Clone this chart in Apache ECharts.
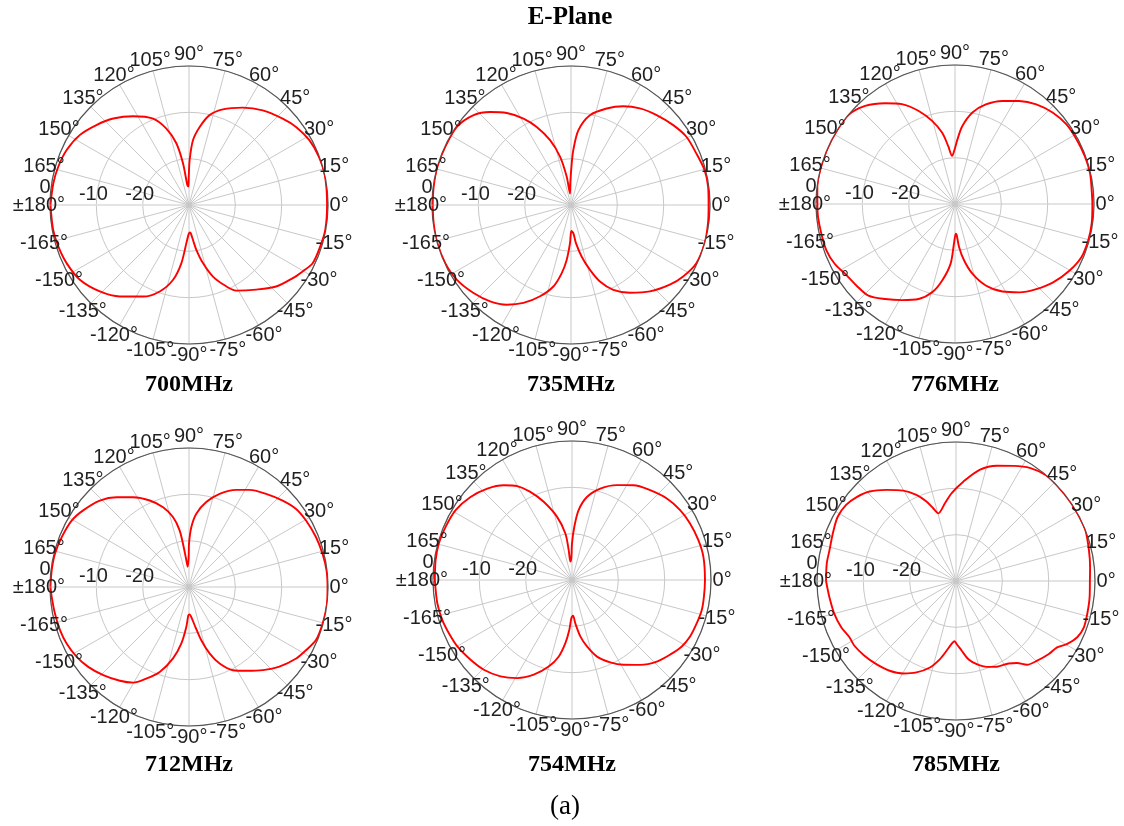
<!DOCTYPE html>
<html>
<head>
<meta charset="utf-8">
<title>E-Plane radiation patterns</title>
<script src="https://cdn.jsdelivr.net/npm/echarts@6/dist/echarts.min.js"></script>
<style>
  html, body { margin: 0; padding: 0; background: #ffffff; }
  #chart { width: 1124px; height: 826px; }
</style>
</head>
<body>
<div id="chart"></div>
<script>
// Normalised E-plane gain (dB) versus angle (deg), one list of [angle, gain] per frequency.
const pattern700 = [[-180,-0.1],[-169.6,-0.2],[-162.4,-0.4],[-154.6,-0.75],[-145.6,-1.45],[-135.9,-3.2],[-127.1,-5.25],[-116.6,-7.9],[-108.7,-10.3],[-102,-13.5],[-97.5,-17.3],[-94,-21.7],[-91,-23.6],[-88.6,-24.1],[-86.6,-23.9],[-83.5,-22.4],[-80.7,-20.2],[-76.5,-17.1],[-71.5,-13.7],[-65.4,-10.7],[-61.1,-8.9],[-51.6,-6.7],[-43.1,-4.25],[-35.2,-2.6],[-30.3,-1.6],[-25.2,-0.5],[-17.5,-0.3],[-10.4,-0.1],[0,-0.2],[11.7,0],[20.3,-0.1],[28.3,-0.5],[36.1,-1.4],[42.7,-2.5],[52.1,-4.1],[61.1,-6.0],[70.5,-8.1],[77.1,-10.1],[82.2,-13.0],[86.5,-16.0],[89.2,-20.3],[90.5,-24.0],[92,-26.0],[94.8,-25.7],[98.2,-20.9],[101.6,-16.4],[106.5,-12.8],[112.6,-9.8],[122.2,-7.35],[131.2,-5.2],[139.2,-3.6],[147.4,-2.0],[155.8,-1.05],[163.7,-0.6],[170.9,-0.35],[180,-0.1]];
const pattern735 = [[-180,-0.15],[-172.4,-0.1],[-164,0],[-155.2,-0.1],[-146.7,-0.55],[-137.9,-1.65],[-130,-2.85],[-122.8,-4.4],[-115.9,-6.5],[-108.7,-9.2],[-102.2,-12.0],[-97.8,-15.1],[-94.5,-18.1],[-91.5,-21.75],[-89.3,-24.4],[-85.3,-23.9],[-82.6,-21.7],[-78.3,-18.6],[-73.7,-15.4],[-69.3,-12.35],[-63.5,-9.55],[-56.1,-7.2],[-47.6,-4.75],[-38.9,-2.6],[-32.5,-1.3],[-24.9,-0.17],[-16,0],[-7.6,-0.17],[0,-0.3],[7.6,-0.15],[14.6,-0.2],[22.4,-0.75],[30.6,-1.07],[38,-2.0],[46.4,-3.2],[54.5,-4.4],[62.1,-5.9],[69.7,-7.8],[78.1,-10.2],[84.4,-13.8],[87.6,-18.15],[89,-21.0],[91.6,-25.0],[95,-27.5],[98.7,-23.8],[102.8,-19.3],[107.9,-15.3],[113.7,-11.6],[118.8,-8.7],[124.9,-5.8],[131,-3.4],[137.3,-1.4],[145.6,-0.15],[155,-0.1],[164,0],[172.4,-0.1],[180,-0.15]];
const pattern776 = [[-180,-0.3],[-174.7,-0.3],[-167.5,-0.45],[-160.2,-0.5],[-153.6,-1.0],[-146.6,-2.0],[-140.3,-2.4],[-133.4,-2.8],[-126.3,-4.55],[-118.9,-6.3],[-110.9,-8.05],[-104.5,-10.3],[-99.5,-13.25],[-94.2,-17.1],[-91.5,-21.45],[-88.5,-23.6],[-86.9,-23.3],[-84.6,-20.7],[-80.9,-17.7],[-76,-14.5],[-69.3,-11.2],[-61.5,-8.5],[-53.9,-6.4],[-46.3,-4.6],[-38.6,-2.9],[-30.1,-1.4],[-22.7,-0.4],[-15.2,-0.2],[-8.1,-0.2],[0,-0.35],[5.9,-0.35],[12.9,-0.1],[20.1,-0.15],[27.9,-0.3],[35.5,-0.45],[43,-1.1],[50.8,-2.25],[58,-3.8],[65.2,-5.5],[72.8,-7.5],[79.2,-9.9],[84.6,-13.1],[87.9,-16.1],[90.5,-18.3],[93.5,-19.6],[96.6,-17.5],[100.2,-14.4],[105.4,-11.4],[111.3,-8.45],[118,-5.6],[124.7,-3.55],[132.5,-1.3],[140,-0.05],[148,0],[157,0],[165.8,0],[172.8,-0.05],[180,-0.3]];
const pattern712 = [[-180,-0.1],[-175.8,-0.3],[-168.8,-0.5],[-161.5,-0.65],[-155.2,-0.9],[-148.1,-1.45],[-141.6,-2.25],[-134.2,-3.45],[-126.4,-4.85],[-120.3,-6.1],[-115,-8.2],[-109,-10.6],[-102.6,-14.2],[-97.7,-17.7],[-93.8,-21.4],[-91.3,-23.9],[-88.6,-24.1],[-85.6,-23.5],[-81,-21.3],[-77,-18.2],[-72.8,-15.0],[-68.2,-12.2],[-62.2,-9.7],[-55.7,-8.1],[-48.4,-6.0],[-41.4,-4.0],[-33.7,-2.2],[-28.4,-1.3],[-22.7,-0.3],[-15.3,-0.1],[-6.9,0],[0,-0.1],[6.9,-0.1],[14,-0.3],[21.4,-0.55],[29.6,-0.95],[36.1,-1.4],[42.7,-2.5],[50.4,-3.9],[58.1,-5.3],[64.1,-6.7],[71.8,-8.85],[78.5,-11.3],[84.3,-14.1],[87.8,-17.1],[90,-20.7],[90.6,-23.5],[93.5,-25.6],[95.7,-24.2],[97.6,-21.3],[99.4,-17.6],[102.9,-14.5],[108,-11.9],[114.4,-9.5],[121.9,-7.2],[128.9,-5.1],[135.9,-3.2],[144.1,-1.8],[150.5,-0.9],[158.6,-0.5],[166.1,-0.2],[173.1,-0.15],[180,-0.1]];
const pattern754 = [[-180,-0.4],[-170.2,-0.5],[-162.9,-0.7],[-156.6,-1.05],[-149.9,-1.4],[-141.8,-2.15],[-134.5,-2.85],[-126.6,-4.1],[-119.2,-5.75],[-112,-7.95],[-105.1,-10.65],[-99.9,-13.2],[-96,-16.3],[-93.1,-19.2],[-91,-21.75],[-88.4,-22.3],[-85.6,-20.6],[-81.6,-17.7],[-77.3,-15.3],[-71.9,-12.6],[-65.1,-10.4],[-58.7,-8.6],[-51.2,-6.5],[-43.9,-4.6],[-37.3,-3.4],[-31.2,-2.3],[-25.6,-1.75],[-19.1,-1.5],[-13,-1.25],[-7.2,-1.3],[0,-1.3],[10,-1.2],[17.5,-1.4],[25.6,-1.75],[32.9,-2.2],[40.7,-3.0],[49,-4.3],[57,-5.6],[64.7,-7.35],[72.8,-9.35],[79.8,-11.8],[84.6,-14.85],[87.5,-18.5],[90,-22.1],[91.8,-25.3],[95.2,-26.0],[96.3,-23.5],[98.1,-19.85],[103.3,-16.0],[109.9,-12.05],[115.3,-8.95],[120.3,-6.55],[125.7,-4.8],[132.8,-3.1],[140.7,-1.7],[149,-0.7],[157.2,-0.4],[164.6,-0.2],[171.7,-0.25],[180,-0.4]];
const pattern785 = [[-180,-1.95],[-172.8,-2.45],[-164.9,-2.8],[-158.1,-3.3],[-152.2,-4.0],[-147.5,-4.0],[-140.8,-4.5],[-133.8,-5.15],[-126.5,-5.9],[-119.8,-7.0],[-113.4,-8.5],[-106.8,-10.5],[-101.6,-12.8],[-97.7,-14.8],[-94,-16.4],[-91.6,-17.0],[-89.4,-16.4],[-85.3,-14.9],[-81,-12.9],[-76,-11.5],[-70.2,-10.3],[-64.5,-9.5],[-57.5,-8.9],[-53.4,-7.95],[-49.7,-6.3],[-44.5,-5.45],[-38.2,-4.5],[-33.3,-3.9],[-29.5,-2.4],[-24.9,-1.15],[-19.9,-0.65],[-14,-0.8],[-6.9,-0.95],[0,-1.1],[6,-0.9],[13,-0.55],[21.4,0],[28,0],[35,0],[42.1,0],[49.4,0],[56.6,-0.8],[63.4,-2.2],[70.5,-3.6],[77.8,-5.4],[85.8,-8.5],[92.8,-11.0],[98.1,-13.05],[104.7,-14.9],[107.4,-13.55],[110.4,-11.7],[114.7,-9.55],[120.3,-7.4],[127.4,-5.25],[134,-3.15],[140,-1.9],[145.3,-1.15],[151.5,-0.95],[158.9,-1.5],[166.3,-1.9],[172.3,-1.85],[180,-1.95]];

// Panel captions, in panel order (top row, then bottom row).
const panelTitles = ['700MHz', '735MHz', '776MHz', '712MHz', '754MHz', '785MHz'];
const panelPatterns = [pattern700, pattern735, pattern776, pattern712, pattern754, pattern785];

// Axis ticks.
const angleTicks = [-180,-165,-150,-135,-120,-105,-90,-75,-60,-45,-30,-15,0,15,30,45,60,75,90,105,120,135,150,165];
const angleTickLabels = ['\u00b1180\u00b0','-165\u00b0','-150\u00b0','-135\u00b0','-120\u00b0','-105\u00b0','-90\u00b0','-75\u00b0','-60\u00b0','-45\u00b0','-30\u00b0','-15\u00b0','0\u00b0','15\u00b0','30\u00b0','45\u00b0','60\u00b0','75\u00b0','90\u00b0','105\u00b0','120\u00b0','135\u00b0','150\u00b0','165\u00b0'];
const radialTicks = [0, -10, -20];
const radialTickLabels = ['0', '-10', '-20'];

// Layout
const centers = [[189, 205], [571, 205], [955, 204], [189, 587], [572, 580], [956, 581]];
const captionY = [385, 385, 385, 765, 765, 765];
const RADIUS = 139;
const R_MIN = -30, R_MAX = 0, R_STEP = 10;
const LABEL_RING = 2.4;          // angle labels are centred this far (in dB units) outside the 0 dB ring
const SANS = "'Liberation Sans', Arial, sans-serif";
const SERIF = "'Liberation Serif', 'Times New Roman', serif";
const TEXT_COLOR = '#1f1f1f';
const TICK_FONT = 20;

const polar = [], angleAxis = [], radiusAxis = [], series = [], graphic = [];

centers.forEach((c, i) => {
  polar.push({ center: c, radius: RADIUS });
  angleAxis.push({
    polarIndex: i, type: 'value', min: -180, max: 180, interval: 15,
    startAngle: 180, clockwise: false,
    axisLine: { show: true, lineStyle: { color: '#555555', width: 1.2 } },
    axisTick: { show: false },
    axisLabel: { show: false },
    splitLine: { show: true, lineStyle: { color: '#c8c8c8', width: 1 } }
  });
  radiusAxis.push({
    polarIndex: i, type: 'value', min: R_MIN, max: R_MAX, interval: R_STEP,
    axisLine: { show: false }, axisTick: { show: false }, axisLabel: { show: false },
    splitLine: { show: true, lineStyle: { color: '#c8c8c8', width: 1 } }
  });

  // gain curve
  series.push({
    type: 'line', coordinateSystem: 'polar', polarIndex: i,
    data: panelPatterns[i].map(([a, g]) => [g, a]),
    showSymbol: false, smooth: 0.3, z: 5, clip: false,
    lineStyle: { color: '#ff0000', width: 1.9 },
    silent: true
  });

  // angle tick labels around the rim
  series.push({
    type: 'scatter', coordinateSystem: 'polar', polarIndex: i, clip: false,
    data: angleTicks.map((a, k) => ({ value: [R_MAX + LABEL_RING, a], name: angleTickLabels[k] })),
    symbolSize: 1, itemStyle: { color: '#ffffff', opacity: 1 }, z: 6, silent: true,
    label: {
      show: true, position: 'inside', formatter: p => p.name,
      fontFamily: SANS, fontSize: TICK_FONT, color: TEXT_COLOR
    }
  });

  // radial tick labels along the 180 degree spoke
  series.push({
    type: 'scatter', coordinateSystem: 'polar', polarIndex: i, clip: false,
    data: radialTicks.map((r, k) => ({
      value: [r, 180], name: radialTickLabels[k],
      label: { offset: r === R_MAX ? [-5, -18] : [-3, -11] }
    })),
    symbolSize: 1, itemStyle: { color: '#ffffff', opacity: 1 }, z: 6, silent: true,
    label: {
      show: true, position: 'inside', formatter: p => p.name,
      fontFamily: SANS, fontSize: TICK_FONT, color: TEXT_COLOR
    }
  });

  // panel caption
  graphic.push({
    type: 'text', x: c[0], y: captionY[i], silent: true,
    style: { text: panelTitles[i], font: 'bold 24px ' + SERIF, fill: '#000', align: 'center', verticalAlign: 'middle' }
  });
});

graphic.push({
  type: 'text', x: 570, y: 18, silent: true,
  style: { text: 'E-Plane', font: 'bold 25px ' + SERIF, fill: '#000', align: 'center', verticalAlign: 'middle' }
});
graphic.push({
  type: 'text', x: 565, y: 807, silent: true,
  style: { text: '(a)', font: '27px ' + SERIF, fill: '#000', align: 'center', verticalAlign: 'middle' }
});

const chart = echarts.init(document.getElementById('chart'), null, { renderer: 'canvas' });
chart.setOption({
  backgroundColor: '#ffffff',
  animation: false,
  polar, angleAxis, radiusAxis, series, graphic
});
</script>
</body>
</html>
